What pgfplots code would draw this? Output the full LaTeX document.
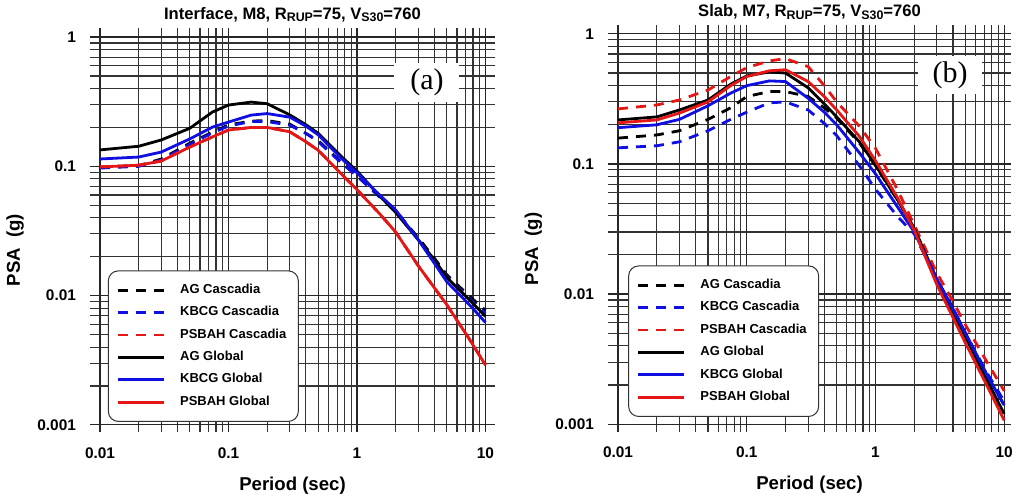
\documentclass[border=0pt]{standalone}
\usepackage{pgfplots}
\pgfplotsset{compat=1.18}
\usepackage{pgfplotstable}
\usepackage{fontspec}
\setmainfont{Liberation Sans}
\newfontfamily\timesfont{Liberation Serif}

\definecolor{cblue}{RGB}{15,15,225}
\definecolor{cred}{RGB}{228,22,22}
\newcommand{\sub}[1]{\raisebox{-0.3ex}{\fontsize{6.2}{6.2}\selectfont #1}}
\tikzset{dsh/.style={dash pattern=on 5pt off 4pt}}

% period, AG Cascadia, KBCG Cascadia, PSBAH Cascadia, AG Global, KBCG Global, PSBAH Global
\pgfplotstableread{
T     agc    kbc    psc    agg    kbg    psg
0.01  0.098  0.097  0.099  0.134  0.114  0.099
0.02  0.101  0.100  0.102  0.143  0.118  0.102
0.03  0.114  0.112  0.110  0.160  0.129  0.110
0.05  0.151  0.148  0.141  0.197  0.163  0.141
0.075 0.184  0.182  0.169  0.263  0.201  0.169
0.1   0.209  0.205  0.191  0.298  0.220  0.191
0.15  0.224  0.222  0.200  0.314  0.249  0.200
0.2   0.226  0.222  0.200  0.305  0.256  0.200
0.3   0.212  0.208  0.185  0.250  0.240  0.185
0.4   0.180  0.180  0.155  0.210  0.205  0.155
0.5   0.158  0.155  0.133  0.180  0.175  0.133
0.75  0.108  0.107  0.088  0.120  0.116  0.088
1     0.085  0.084  0.066  0.092  0.089  0.066
1.5   0.058  0.058  0.043  0.059  0.060  0.043
2     0.045  0.046  0.031  0.044  0.046  0.031
3     0.028  0.027  0.017  0.027  0.027  0.017
4     0.0195 0.019  0.0115 0.019  0.0178 0.0115
5     0.0145 0.014  0.0085 0.0138 0.0128 0.0085
7.5   0.0099 0.0095 0.0046 0.0093 0.0085 0.0046
10    0.0077 0.0073 0.0029 0.0069 0.0062 0.0029
}\interface

\pgfplotstableread{
T     agc    kbc    psc    agg    kbg    psg
0.01  0.158  0.133  0.265  0.218  0.190  0.207
0.02  0.167  0.138  0.284  0.230  0.200  0.218
0.03  0.180  0.148  0.310  0.260  0.220  0.246
0.05  0.220  0.180  0.370  0.310  0.280  0.300
0.075 0.270  0.220  0.470  0.410  0.350  0.400
0.1   0.330  0.250  0.550  0.475  0.400  0.470
0.15  0.360  0.295  0.620  0.510  0.435  0.520
0.2   0.360  0.300  0.645  0.500  0.430  0.530
0.3   0.330  0.260  0.560  0.385  0.320  0.430
0.4   0.270  0.205  0.400  0.290  0.250  0.330
0.5   0.225  0.165  0.300  0.230  0.200  0.260
0.75  0.145  0.097  0.195  0.148  0.122  0.163
1     0.097  0.064  0.132  0.098  0.084  0.106
1.5   0.052  0.039  0.062  0.052  0.046  0.054
2     0.032  0.029  0.034  0.032  0.030  0.031
3     0.013  0.0128 0.0145 0.0128 0.013  0.0118
4     0.0078 0.0078 0.0088 0.0073 0.0077 0.0066
5     0.005  0.005  0.0058 0.0047 0.005  0.0042
7.5   0.0023 0.0024 0.0029 0.0021 0.0023 0.0019
10    0.0014 0.0015 0.0018 0.0012 0.0014 0.00107
}\slab

\begin{document}
\begin{tikzpicture}
\useasboundingbox (0,0) rectangle (508pt,249.5pt);
\begin{loglogaxis}[scale only axis, anchor=south west,
  at={(45pt,33.5pt)}, width=202.5pt, height=202pt,
  xmin=0.00836, xmax=11.86, ymin=0.000881, ymax=1.175,
  axis line style={draw=none},
  major tick length=0pt, minor tick length=0pt,
  xtick={0.01,0.1,1,10}, xticklabels={0.01,0.1,1,10},
  ytick={0.001,0.01,0.1,1}, yticklabels={0.001,0.01,0.1,1},
  minor xtick={0.02,0.03,0.04,0.05,0.06,0.07,0.08,0.09,0.2,0.3,0.4,0.5,0.6,0.7,0.8,0.9,2,3,4,5,6,7,8,9},
  minor ytick={0.002,0.003,0.004,0.005,0.006,0.007,0.008,0.009,0.02,0.03,0.04,0.05,0.06,0.07,0.08,0.09,0.2,0.3,0.4,0.5,0.6,0.7,0.8,0.9},
  grid=both,
  major grid style={draw=black!85, line width=0.6pt},
  minor grid style={draw=black!80, line width=0.55pt},
  tick label style={font=\bfseries\fontsize{7.7}{8}\selectfont},
  xticklabel style={anchor=base, yshift=-13pt},
  yticklabel style={anchor=east, xshift=-3.5pt},
  xlabel={Period (sec)}, ylabel={PSA\ \ (g)},
  xlabel style={at={(axis description cs:0.5,0)}, anchor=base, yshift=-29pt,
    font=\bfseries\fontsize{9.3}{10}\selectfont},
  ylabel style={at={(axis description cs:-0.185,0.45)}, anchor=center,
    font=\bfseries\fontsize{9.3}{10}\selectfont},
  title={Interface, M8, R\sub{RUP}=75, V\sub{S30}=760},
  every axis title/.style={at={(rel axis cs:0.5,1)}, anchor=base, yshift=4.5pt,
    font=\bfseries\fontsize{8.3}{9}\selectfont},
  legend image code/.code={\draw[#1] (0pt,0pt) -- (23pt,0pt);},
  legend style={at={(0.044,0.025)}, anchor=south west, draw=black!80, line width=0.5pt,
    rounded corners=5pt, fill=white, font=\bfseries\fontsize{6.5}{7}\selectfont,
    inner xsep=4pt, inner ysep=4.5pt, row sep=1.0pt,
    /tikz/every odd column/.append style={column sep=5.5pt}},
  legend cell align=left,
  every axis plot/.append style={line width=1.4pt}]
\addplot[black, dsh] table[x=T, y=agc] {\interface};
\addlegendentry{AG Cascadia}
\addplot[cblue, dsh] table[x=T, y=kbc] {\interface};
\addlegendentry{KBCG Cascadia}
\addplot[cred, dsh] table[x=T, y=psc] {\interface};
\addlegendentry{PSBAH Cascadia}
\addplot[black] table[x=T, y=agg] {\interface};
\addlegendentry{AG Global}
\addplot[cblue] table[x=T, y=kbg] {\interface};
\addlegendentry{KBCG Global}
\addplot[cred] table[x=T, y=psg] {\interface};
\addlegendentry{PSBAH Global}
\node[fill=white, inner sep=0pt, minimum width=32.5pt, minimum height=19.5pt,
  font=\timesfont\fontsize{15}{15}\selectfont] at (rel axis cs:0.832,0.866) {(a)};
\end{loglogaxis}

\begin{loglogaxis}[scale only axis, anchor=south west,
  at={(304pt,33.5pt)}, width=201.5pt, height=203.5pt,
  xmin=0.00836, xmax=11.3, ymin=0.00087, ymax=1.17,
  axis line style={draw=none},
  major tick length=0pt, minor tick length=0pt,
  xtick={0.01,0.1,1,10}, xticklabels={0.01,0.1,1,10},
  ytick={0.001,0.01,0.1,1}, yticklabels={0.001,0.01,0.1,1},
  minor xtick={0.02,0.03,0.04,0.05,0.06,0.07,0.08,0.09,0.2,0.3,0.4,0.5,0.6,0.7,0.8,0.9,2,3,4,5,6,7,8,9},
  minor ytick={0.002,0.003,0.004,0.005,0.006,0.007,0.008,0.009,0.02,0.03,0.04,0.05,0.06,0.07,0.08,0.09,0.2,0.3,0.4,0.5,0.6,0.7,0.8,0.9},
  grid=both,
  major grid style={draw=black!85, line width=0.6pt},
  minor grid style={draw=black!80, line width=0.55pt},
  tick label style={font=\bfseries\fontsize{7.7}{8}\selectfont},
  xticklabel style={anchor=base, yshift=-12.5pt},
  yticklabel style={anchor=east, xshift=-3.5pt},
  xlabel={Period (sec)}, ylabel={PSA\ \ (g)},
  xlabel style={at={(axis description cs:0.5,0)}, anchor=base, yshift=-28.5pt,
    font=\bfseries\fontsize{9.3}{10}\selectfont},
  ylabel style={at={(axis description cs:-0.185,0.45)}, anchor=center,
    font=\bfseries\fontsize{9.3}{10}\selectfont},
  title={Slab, M7, R\sub{RUP}=75, V\sub{S30}=760},
  every axis title/.style={at={(rel axis cs:0.5,1)}, anchor=base, yshift=4pt,
    font=\bfseries\fontsize{8.3}{9}\selectfont},
  legend image code/.code={\draw[#1] (0pt,0pt) -- (23pt,0pt);},
  legend style={at={(0.05,0.037)}, anchor=south west, draw=black!80, line width=0.5pt,
    rounded corners=5pt, fill=white, font=\bfseries\fontsize{6.5}{7}\selectfont,
    inner xsep=4pt, inner ysep=4.5pt, row sep=1.0pt,
    /tikz/every odd column/.append style={column sep=5.5pt}},
  legend cell align=left,
  every axis plot/.append style={line width=1.4pt}]
\addplot[black, dsh] table[x=T, y=agc] {\slab};
\addlegendentry{AG Cascadia}
\addplot[cblue, dsh] table[x=T, y=kbc] {\slab};
\addlegendentry{KBCG Cascadia}
\addplot[cred, dsh] table[x=T, y=psc] {\slab};
\addlegendentry{PSBAH Cascadia}
\addplot[black] table[x=T, y=agg] {\slab};
\addlegendentry{AG Global}
\addplot[cblue] table[x=T, y=kbg] {\slab};
\addlegendentry{KBCG Global}
\addplot[cred] table[x=T, y=psg] {\slab};
\addlegendentry{PSBAH Global}
\node[fill=white, inner sep=0pt, minimum width=32pt, minimum height=19pt,
  font=\timesfont\fontsize{15}{15}\selectfont] at (rel axis cs:0.849,0.877) {(b)};
\end{loglogaxis}
\end{tikzpicture}
\end{document}
